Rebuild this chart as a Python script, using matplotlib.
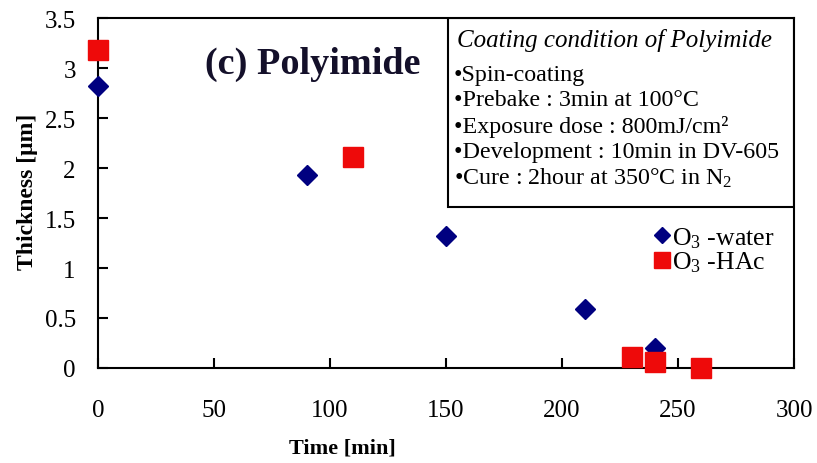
import matplotlib
matplotlib.use("Agg")
import matplotlib.pyplot as plt

plt.rcParams['font.family'] = ['Liberation Serif', 'DejaVu Serif']
plt.rcParams['mathtext.fontset'] = 'custom'
plt.rcParams['mathtext.rm'] = 'Liberation Serif'
plt.rcParams['mathtext.it'] = 'Liberation Serif:italic'
plt.rcParams['mathtext.bf'] = 'Liberation Serif:bold'

# data
water_time = [0, 90, 150, 210, 240]
water_thick = [2.82, 1.93, 1.32, 0.59, 0.20]
hac_time = [0, 110, 230, 240, 260]
hac_thick = [3.18, 2.11, 0.11, 0.06, 0.0]
xticks = [0, 50, 100, 150, 200, 250, 300]
yticks = [0, 0.5, 1, 1.5, 2, 2.5, 3, 3.5]
ytick_labels = ['0', '0.5', '1', '1.5', '2', '2.5', '3', '3.5']
box_title = "Coating condition of Polyimide"
box_lines = ["•Spin-coating",
             "•Prebake : 3min at 100°C",
             "•Exposure dose : 800mJ/cm²",
             "•Development : 10min in DV-605",
             "•Cure : 2hour at 350°C in N$_2$"]

W, H = 817, 464
fig = plt.figure(figsize=(W/100, H/100), dpi=100)
ax = fig.add_axes([98/W, 1-369/H, (794-98)/W, (369-19)/H])


def px(x, y):
    return x / W, 1 - y / H


ax.plot(water_time, water_thick, linestyle='none', marker='D', markersize=10.5,
        color='#000080', label='O$_3$ -water', zorder=3, clip_on=False)
ax.plot(hac_time, hac_thick, linestyle='none', marker='s', markersize=14.5,
        color='#ee0a0a', label='O$_3$ -HAc', zorder=4, clip_on=False)

ax.set_xlim(0, 300)
ax.set_ylim(0, 3.5)
ax.set_xticks(xticks)
ax.set_yticks(yticks)
ax.set_yticklabels(ytick_labels)
ax.tick_params(direction='in', length=7, width=1.5, labelsize=18,
               top=False, right=False)
ax.tick_params(axis='x', pad=22)
ax.tick_params(axis='y', pad=16)
for s in ax.spines.values():
    s.set_linewidth(1.5)

fig.text(*px(342, 449), 'Time [min]', fontsize=16, fontweight='bold',
         ha='center', va='center')
fig.text(*px(28, 192), 'Thickness [μm]', fontsize=17, fontweight='bold',
         ha='center', va='center', rotation=90)

fig.text(*px(205, 64), '(c) Polyimide', fontsize=27.5,
         fontweight='bold', color='#14102a', va='center', ha='left')

# condition box
bx0 = (448-98)/(794-98)
by0 = (369-208)/(369-19)
ax.add_patch(plt.Rectangle((bx0, by0), 1-bx0, 1-by0, transform=ax.transAxes,
                           fill=False, edgecolor='black', linewidth=1.5, zorder=5))
fig.text(*px(457, 40), box_title, fontsize=18, style='italic',
         va='center', ha='left')
for i, line in enumerate(box_lines):
    fig.text(*px(454, 75 + i*25.8), line, fontsize=17.3, va='center', ha='left')

leg = ax.legend(loc='upper left', bbox_to_anchor=((655-98)/(794-98), (369-226)/(369-19)),
                frameon=False, fontsize=18.5, handlelength=0.55, handletextpad=0.1,
                labelspacing=0.0, borderpad=0, borderaxespad=0, markerscale=0.75)

fig.savefig('out.png', dpi=100)
